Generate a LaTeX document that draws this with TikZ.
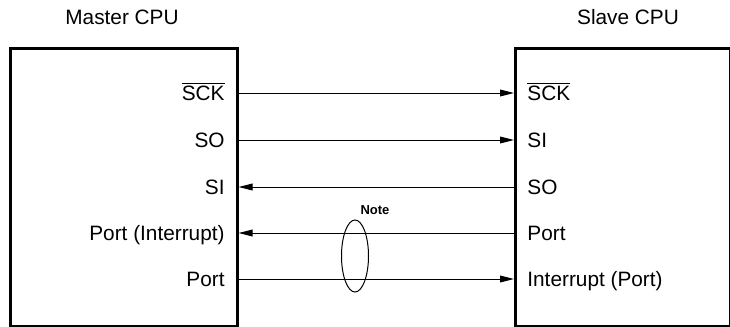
\documentclass[tikz,border=0pt]{standalone}
\usepackage{fontspec}
\setmainfont{Liberation Sans}
\usetikzlibrary{arrows.meta,positioning,shapes.geometric}

\tikzset{
  cpu/.style={draw, line width=1.3pt, inner sep=0pt, anchor=north west},
  sig/.style={font=\fontsize{10.4}{12}\selectfont, inner sep=0pt, text height=7.4pt, text depth=0pt},
  wire/.style={line width=0.5pt, -{Triangle[length=7pt,width=3.4pt]}},
}

\begin{document}
\begin{tikzpicture}[x=0.5pt,y=-0.5pt]
    \useasboundingbox (0,0) rectangle (730,327);

    \node[sig] (mtitle) at (122,17) {Master CPU};
    \node[sig] (stitle) at (628,17) {Slave CPU};

    \node[cpu, minimum width=113.5pt, minimum height=139pt] (master) at (9,47) {};
    \node[cpu, minimum width=107.5pt, minimum height=139pt] (slave) at (514,47) {};

    % master side
    \node[sig, anchor=east] (mSCK) at (225,93) {$\overline{\hbox{SCK}}$};
    \node[sig, anchor=east] (mSO) at (225,140) {SO};
    \node[sig, anchor=east] (mSI) at (225,187) {SI};
    \node[sig, anchor=east] (mINT) at (225,233) {Port (Interrupt)};
    \node[sig, anchor=east] (mPort) at (225,279) {Port};

    % slave side
    \node[sig, anchor=west] (sSCK) at (527,93) {$\overline{\hbox{SCK}}$};
    \node[sig, anchor=west] (sSI) at (527,140) {SI};
    \node[sig, anchor=west] (sSO) at (527,187) {SO};
    \node[sig, anchor=west] (sPort) at (527,233) {Port};
    \node[sig, anchor=west] (sINT) at (527,279) {Interrupt (Port)};

    \draw[wire] (master.east |- mSCK) -- (slave.west |- sSCK);
    \draw[wire] (master.east |- mSO) -- (slave.west |- sSI);
    \draw[wire] (slave.west |- sSO) -- (master.east |- mSI);
    \draw[wire] (slave.west |- sPort) -- (master.east |- mINT);
    \draw[wire] (master.east |- mPort) -- (slave.west |- sINT);

    \node[draw, ellipse, line width=0.5pt, inner sep=0pt, minimum width=13.5pt, minimum height=36pt] (loop) at (355,256) {};
    \node[font=\bfseries\fontsize{6.5}{8}\selectfont, inner sep=0pt] (note) at (375,210) {Note};
\end{tikzpicture}
\end{document}
